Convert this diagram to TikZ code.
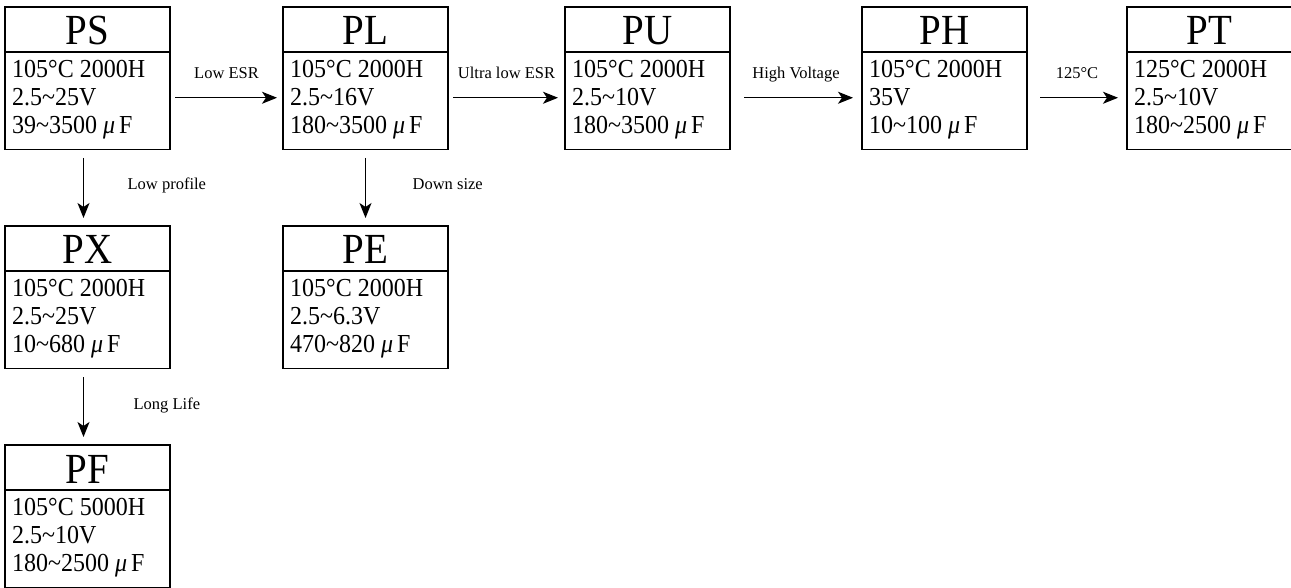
\documentclass[tikz,border=0pt]{standalone}
\usepackage{fontspec}
\setmainfont{Liberation Serif}
\usetikzlibrary{arrows.meta}
\newcommand\tl{\textasciitilde}
\newcommand\uF{\textit{μ}\,F}
\newcommand\tallA[1]{\scalebox{1}[1.08]{#1}}
\newcommand\tallB[1]{\scalebox{1}[1.1]{#1}}
\newcommand\pbox[7]{%
  \node[titlebox] (#1t) at (#2,#3) {\tallB{#4}};
  \node[bodybox] (#1) at (#2,#3+45) {};
  \node[bodytext] (#1a) at ([xshift=7pt,yshift=-25.5pt]#1.north west) {\tallA{#5}};
  \node[bodytext] (#1b) at ([xshift=7pt,yshift=-53.5pt]#1.north west) {\tallA{#6}};
  \node[bodytext] (#1c) at ([xshift=7pt,yshift=-81.5pt]#1.north west) {\tallA{#7}};
}
\begin{document}
\begin{tikzpicture}[x=1pt,y=-1pt,
  boxline/.style={draw=black, line width=1.2pt},
  titlebox/.style={boxline, anchor=north west, outer sep=0pt, minimum width=165pt, minimum height=45pt, inner sep=0pt, text height=31pt, text depth=0pt, font=\fontsize{39}{39}\selectfont},
  bodybox/.style={boxline, anchor=north west, outer sep=0pt, minimum width=165pt, minimum height=97.5pt, inner sep=0pt},
  bodytext/.style={anchor=base west, inner sep=0pt, font=\fontsize{24}{27.5}\selectfont},
  flow/.style={draw=black, line width=1.3pt, -{Stealth[length=15pt,width=12pt,inset=4pt]}},
  lab/.style={font=\fontsize{16.5}{18}\selectfont, inner sep=0pt}
]
\useasboundingbox (0,0) rectangle (1291,588);
\pbox{ps}{5}{7}{PS}{105°C 2000H}{2.5\tl 25V}{39\tl 3500 \uF}
\pbox{pl}{283}{7}{PL}{105°C 2000H}{2.5\tl 16V}{180\tl 3500 \uF}
\pbox{pu}{565}{7}{PU}{105°C 2000H}{2.5\tl 10V}{180\tl 3500 \uF}
\pbox{ph}{862}{7}{PH}{105°C 2000H}{35V}{10\tl 100 \uF}
\pbox{pt}{1127}{7}{PT}{125°C 2000H}{2.5\tl 10V}{180\tl 2500 \uF}
\pbox{px}{5}{226}{PX}{105°C 2000H}{2.5\tl 25V}{10\tl 680 \uF}
\pbox{pe}{283}{226}{PE}{105°C 2000H}{2.5\tl 6.3V}{470\tl 820 \uF}
\pbox{pf}{5}{445}{PF}{105°C 5000H}{2.5\tl 10V}{180\tl 2500 \uF}

\draw[flow, shorten <=5pt, shorten >=6pt] ([yshift=3pt]ps.east) -- node[lab, pos=.5, anchor=base, yshift=19pt] (l1) {Low ESR} ([yshift=3pt]pl.west);
\draw[flow, shorten <=5pt, shorten >=7pt] ([yshift=3pt]pl.east) -- node[lab, pos=.5, anchor=base, yshift=19pt] (l2) {Ultra low ESR} ([yshift=3pt]pu.west);
\draw[flow, shorten <=14pt, shorten >=9pt] ([yshift=3pt]pu.east) -- node[lab, pos=.5, anchor=base, yshift=19pt] (l3) {High Voltage} ([yshift=3pt]ph.west);
\draw[flow, shorten <=13pt, shorten >=9pt] ([yshift=3pt]ph.east) -- node[lab, pos=.5, anchor=base, yshift=19pt] (l4) {125°C} ([yshift=3pt]pt.west);

\draw[flow, shorten <=8.5pt, shorten >=8pt] ([xshift=-4pt]ps.south) -- node[lab, pos=.5, anchor=base west, xshift=43.5pt, yshift=-2pt] (l5) {Low profile} ([xshift=-4pt]pxt.north);
\draw[flow, shorten <=8.5pt, shorten >=8pt] (pl.south) -- node[lab, pos=.5, anchor=base west, xshift=46.5pt, yshift=-2pt] (l6) {Down size} (pet.north);
\draw[flow, shorten <=8.5pt, shorten >=8pt] ([xshift=-4pt]px.south) -- node[lab, pos=.5, anchor=base west, xshift=49.5pt, yshift=-3pt] (l7) {Long Life} ([xshift=-4pt]pft.north);
\end{tikzpicture}
\end{document}
